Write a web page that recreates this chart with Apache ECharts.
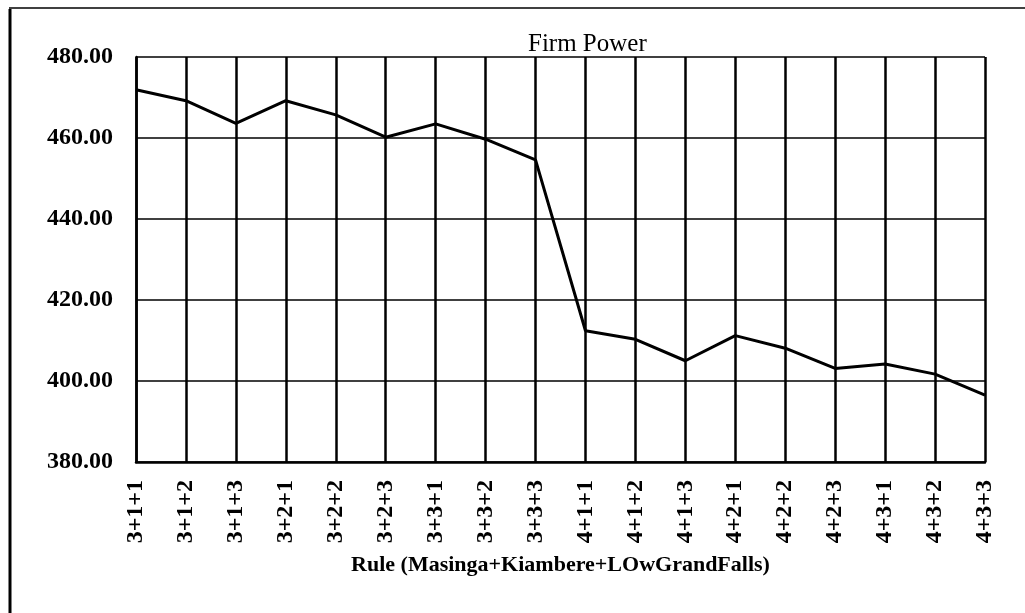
<!DOCTYPE html>
<html>
<head>
<meta charset="utf-8">
<script src="https://cdn.jsdelivr.net/npm/echarts@6/dist/echarts.min.js"></script>
<style>
  html, body { margin: 0; padding: 0; background: #fff; }
  #chart { width: 1025px; height: 613px; }
</style>
</head>
<body>
<div id="chart"></div>
<script>
// Operating rules: Masinga + Kiambere + Lower Grand Falls
const rules = [
  '3+1+1', '3+1+2', '3+1+3', '3+2+1', '3+2+2', '3+2+3', '3+3+1', '3+3+2', '3+3+3',
  '4+1+1', '4+1+2', '4+1+3', '4+2+1', '4+2+2', '4+2+3', '4+3+1', '4+3+2', '4+3+3'
];
// Firm power for each rule
const firmPower = [
  471.9, 469.2, 463.6, 469.2, 465.7, 460.2, 463.5, 459.7, 454.6,
  412.4, 410.3, 405.0, 411.2, 408.1, 403.1, 404.2, 401.7, 396.5
];
const yMin = 380, yMax = 480, yStep = 20;

const FONT = '"Liberation Serif", "DejaVu Serif", serif';
const chart = echarts.init(document.getElementById('chart'));

chart.setOption({
  backgroundColor: '#ffffff',
  animation: false,
  title: {
    text: 'Firm Power',
    left: 523,
    top: 27,
    textStyle: { fontFamily: FONT, fontSize: 25, fontWeight: 'normal', color: '#000' }
  },
  grid: { left: 136, right: 40, top: 57, bottom: 151, containLabel: false },
  xAxis: {
    type: 'category',
    data: rules,
    boundaryGap: false,
    name: 'Rule (Masinga+Kiambere+LOwGrandFalls)',
    nameLocation: 'middle',
    nameGap: 92,
    nameTextStyle: { fontFamily: FONT, fontSize: 22, fontWeight: 'bold', color: '#000' },
    axisLine: { show: true, lineStyle: { color: '#000', width: 2.5 } },
    axisTick: { show: false },
    axisLabel: {
      rotate: 90,
      interval: 0,
      margin: 18,
      fontFamily: FONT,
      fontSize: 24,
      fontWeight: 'bold',
      color: '#000'
    },
    splitLine: { show: true, lineStyle: { color: '#000', width: 2.5 } }
  },
  yAxis: {
    type: 'value',
    min: yMin,
    max: yMax,
    interval: yStep,
    axisLine: { show: true, lineStyle: { color: '#000', width: 2.5 } },
    axisTick: { show: false },
    axisLabel: {
      margin: 23,
      fontFamily: FONT,
      fontSize: 24,
      fontWeight: 'bold',
      color: '#000',
      formatter: v => v.toFixed(2)
    },
    splitLine: { show: true, lineStyle: { color: '#000', width: 1.5 } }
  },
  graphic: [
    { type: 'line', shape: { x1: 10, y1: 9, x2: 10, y2: 613 }, style: { stroke: '#000', lineWidth: 3 } },
    { type: 'line', shape: { x1: 9, y1: 8, x2: 1025, y2: 8 }, style: { stroke: '#000', lineWidth: 1.5 } }
  ],
  series: [{
    type: 'line',
    data: firmPower,
    showSymbol: false,
    symbol: 'none',
    lineStyle: { color: '#000', width: 3 }
  }]
});
</script>
</body>
</html>
